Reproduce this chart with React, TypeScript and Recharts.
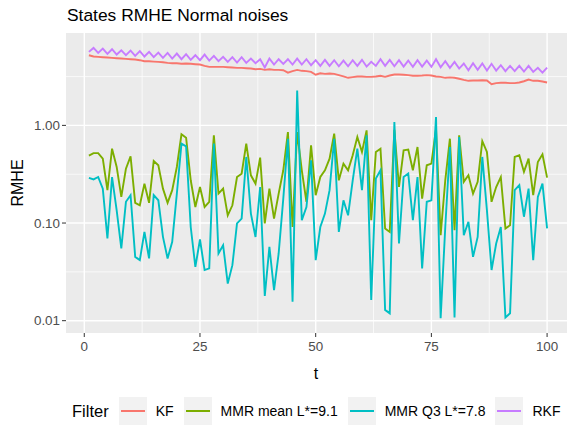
import { CartesianGrid, Line, LineChart, XAxis, YAxis } from "recharts";

const t = Array.from({ length: 100 }, (_, i) => i + 1);

const kf = [
  5.23, 5.07, 5.03, 4.99, 4.95, 4.91, 4.87, 4.84, 4.8, 4.76, 4.72, 4.65, 4.54, 4.54, 4.5, 4.47, 4.43, 4.37, 4.33, 4.33,
  4.27, 4.3, 4.27, 4.23, 4.2, 4.07, 3.97, 3.97, 3.97, 3.97, 3.94, 3.91, 3.88, 3.88, 3.85, 3.82, 3.76, 3.79, 3.7, 3.76,
  3.7, 3.7, 3.67, 3.47, 3.59, 3.7, 3.62, 3.59, 3.53, 3.3, 3.42, 3.37, 3.4, 3.37, 3.27, 3.17, 3.07, 3.12, 3.17, 3.17,
  3.14, 3.14, 3.17, 3.22, 3.14, 3.24, 3.32, 3.32, 3.3, 3.27, 3.22, 3.22, 3.24, 3.27, 3.24, 3.17, 3.14, 3.07, 3.1, 3.07,
  3.0, 2.92, 2.86, 2.88, 2.88, 2.9, 2.88, 2.64, 2.71, 2.73, 2.73, 2.71, 2.71, 2.75, 2.83, 2.95, 2.86, 2.86, 2.81, 2.75,
];

const mmrMean = [
  0.49, 0.52, 0.52, 0.456, 0.217, 0.577, 0.375, 0.185, 0.36, 0.482, 0.161, 0.152, 0.253, 0.161, 0.432, 0.39, 0.225, 0.161, 0.217, 0.375,
  0.81, 0.748, 0.274, 0.146, 0.234, 0.146, 0.165, 0.79, 0.2, 0.225, 0.12, 0.152, 0.296, 0.32, 0.65, 0.308, 0.253, 0.467, 0.099, 0.225,
  0.111, 0.2, 0.347, 0.855, 0.091, 0.855, 0.347, 0.165, 0.625, 0.193, 0.296, 0.347, 0.456, 0.822, 0.274, 0.406, 0.347, 0.494, 0.76, 0.534,
  0.889, 0.107, 0.534, 0.577, 0.088, 0.081, 0.903, 0.234, 0.555, 0.564, 0.347, 0.6, 0.178, 0.39, 0.406, 0.92, 0.075, 0.274, 0.73, 0.0845,
  0.79, 0.264, 0.308, 0.2, 0.264, 0.69, 0.534, 0.165, 0.234, 0.296, 0.088, 0.095, 0.475, 0.494, 0.334, 0.456, 0.193, 0.422, 0.506, 0.292,
];

const mmrQ3 = [
  0.29, 0.28, 0.296, 0.225, 0.0695, 0.296, 0.135, 0.055, 0.165, 0.193, 0.045, 0.0417, 0.0813, 0.0434, 0.193, 0.171, 0.0722, 0.0434, 0.0642, 0.2,
  0.65, 0.61, 0.091, 0.0356, 0.0678, 0.033, 0.0343, 0.65, 0.0488, 0.0593, 0.024, 0.037, 0.099, 0.111, 0.475, 0.125, 0.072, 0.234, 0.0179, 0.057,
  0.0206, 0.0488, 0.178, 0.73, 0.0156, 2.28, 0.107, 0.146, 0.439, 0.0417, 0.091, 0.125, 0.217, 0.73, 0.081, 0.171, 0.12, 0.274, 0.577, 0.217,
  0.79, 0.0163, 0.285, 0.347, 0.0129, 0.0119, 1.08, 0.0617, 0.296, 0.321, 0.107, 0.296, 0.0343, 0.165, 0.171, 1.22, 0.0106, 0.091, 0.6, 0.0108,
  0.76, 0.075, 0.103, 0.045, 0.072, 0.475, 0.135, 0.033, 0.0617, 0.091, 0.0108, 0.0119, 0.217, 0.244, 0.116, 0.225, 0.0417, 0.185, 0.253, 0.088,
];

const rkf = [
  5.66, 6.21, 5.53, 6.12, 5.4, 6.02, 5.31, 5.88, 5.23, 5.84, 5.15, 5.77, 5.07, 5.66, 4.99, 5.57, 4.91, 5.53, 4.83, 5.44,
  4.76, 5.36, 4.69, 5.23, 4.65, 5.31, 4.61, 5.15, 4.54, 5.03, 4.47, 4.99, 4.4, 4.99, 4.37, 4.83, 4.33, 4.76, 3.91, 4.83,
  4.2, 4.76, 4.27, 4.76, 4.2, 4.83, 4.2, 4.76, 4.13, 4.65, 4.07, 4.69, 4.07, 4.65, 4.03, 4.61, 4.03, 4.65, 4.07, 4.69,
  4.0, 4.47, 4.07, 4.76, 4.07, 4.69, 4.03, 4.65, 4.0, 4.61, 3.97, 4.65, 4.0, 4.61, 3.97, 4.76, 3.94, 4.54, 3.88, 4.47,
  3.82, 4.3, 3.67, 4.33, 3.7, 4.3, 3.64, 4.27, 3.64, 4.13, 3.59, 4.07, 3.59, 4.07, 3.56, 4.07, 3.53, 3.88, 3.47, 3.91,
];

const xTicks = [0, 25, 50, 75, 100];
const xMinor = [12.5, 37.5, 62.5, 87.5];
const yTicks = [0.01, 0.1, 1];
const yMinor = [0.0316, 0.316, 3.16];

const series = [
  { key: "kf", name: "KF", color: "#F8766D" },
  { key: "mmrMean", name: "MMR mean L*=9.1", color: "#7CAE00" },
  { key: "mmrQ3", name: "MMR Q3 L*=7.8", color: "#00BFC4" },
  { key: "rkf", name: "RKF", color: "#C77CFF" },
];

const data = t.map((v, i) => ({
  t: v,
  kf: kf[i],
  mmrMean: mmrMean[i],
  mmrQ3: mmrQ3[i],
  rkf: rkf[i],
}));

const font = "'Liberation Sans', Arial, sans-serif";

export default function App() {
  return (
    <div
      style={{
        position: "absolute",
        left: 0,
        top: 0,
        width: 567,
        height: 434,
        overflow: "hidden",
        background: "#fff",
        fontFamily: font,
      }}
    >
      <div style={{ position: "absolute", left: 67, top: 5, fontSize: 17.4, color: "#000", whiteSpace: "nowrap" }}>
        States RMHE Normal noises
      </div>
      <div
        style={{
          position: "absolute",
          left: 18,
          top: 183,
          fontSize: 16,
          color: "#000",
          transform: "translate(-50%, -50%) rotate(-90deg)",
        }}
      >
        RMHE
      </div>
      <div
        style={{
          position: "absolute",
          left: 316,
          top: 374,
          fontSize: 16,
          color: "#000",
          transform: "translate(-50%, -50%)",
        }}
      >
        t
      </div>
      <LineChart
        width={575}
        height={434}
        data={data}
        margin={{ top: 33, right: 5, bottom: 71, left: 0 }}
        style={{ fontFamily: font }}
      >
        <CartesianGrid
          fill="#EBEBEB"
          stroke="#FFFFFF"
          strokeWidth={0.7}
          horizontalValues={yMinor}
          verticalValues={xMinor}
        />
        <CartesianGrid
          stroke="#FFFFFF"
          strokeWidth={1.4}
          horizontalValues={yTicks}
          verticalValues={xTicks}
        />
        <XAxis
          type="number"
          dataKey="t"
          domain={[-3.95, 104.95]}
          ticks={xTicks}
          allowDataOverflow
          height={30}
          axisLine={false}
          tickSize={4}
          tickMargin={4}
          tickLine={{ stroke: "#333333" }}
          tick={{ fill: "#4D4D4D", fontSize: 13.4 }}
        />
        <YAxis
          scale="log"
          domain={[0.00748, 8.83]}
          ticks={yTicks}
          allowDataOverflow
          width={66}
          axisLine={false}
          tickSize={4}
          tickMargin={2}
          tickLine={{ stroke: "#333333" }}
          tick={{ fill: "#4D4D4D", fontSize: 13.4 }}
          tickFormatter={(v: number) => v.toFixed(2)}
        />
        {series.map((s) => (
          <Line
            key={s.key}
            type="linear"
            dataKey={s.key}
            name={s.name}
            stroke={s.color}
            strokeWidth={1.9}
            dot={false}
            activeDot={false}
            isAnimationActive={false}
          />
        ))}
      </LineChart>
      <div
        style={{
          position: "absolute",
          left: 72,
          top: 397,
          width: 520,
          height: 28,
          display: "flex",
          alignItems: "center",
          whiteSpace: "nowrap",
        }}
      >
        <span style={{ fontSize: 16.5, color: "#000", marginRight: 10, flexShrink: 0 }}>Filter</span>
        {series.map((s) => (
          <span key={s.key} style={{ display: "flex", alignItems: "center", marginRight: 10, flexShrink: 0 }}>
            <span
              style={{
                width: 28,
                height: 28,
                background: "#F2F2F2",
                display: "flex",
                alignItems: "center",
                justifyContent: "center",
                flexShrink: 0,
              }}
            >
              <span style={{ width: 24, height: 2, background: s.color }} />
            </span>
            <span style={{ fontSize: 14, color: "#000", marginLeft: 9 }}>{s.name}</span>
          </span>
        ))}
      </div>
    </div>
  );
}
